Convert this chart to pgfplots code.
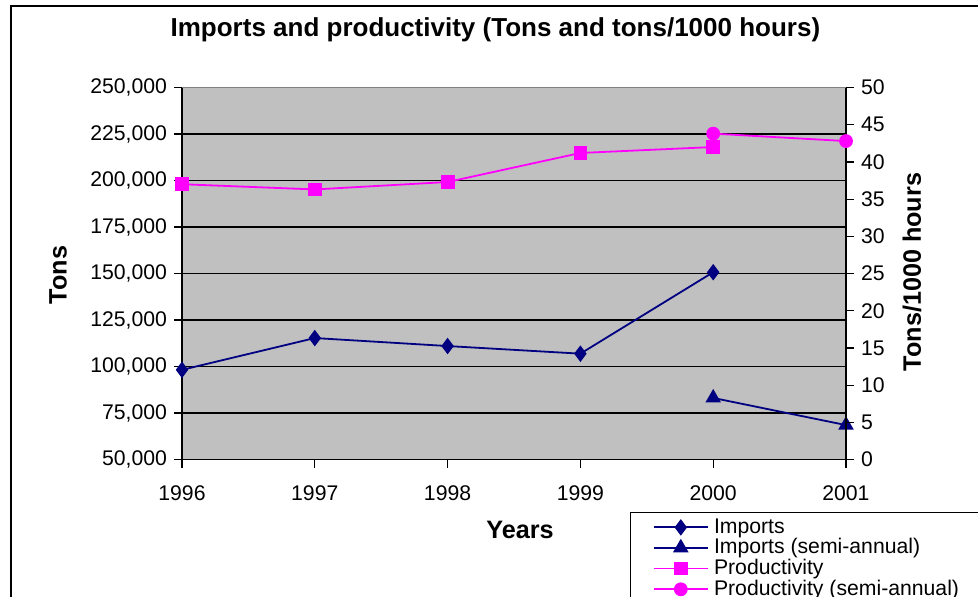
\documentclass[border=0pt]{standalone}
\usepackage{fontspec}
\setmainfont{Liberation Sans}
\usepackage{pgfplots}
\pgfplotsset{compat=1.18}

\definecolor{navy}{HTML}{000080}
\definecolor{magenta}{HTML}{FF00FF}
\definecolor{plotgray}{HTML}{C0C0C0}

\newcommand{\tickfont}{\fontsize{10.6}{11}\selectfont}
\newcommand{\labfont}{\fontsize{12.6}{14}\selectfont\bfseries}

\pgfplotsset{
  common/.style={
    scale only axis,
    width=332pt, height=186pt,
    at={(91pt,68.25pt)}, anchor=south west,
    xmin=1996, xmax=2001,
    tick align=outside,
    major tick length=4pt,
    tick style={black, line width=0.6pt},
    /pgf/number format/assume math mode=true,
    ticklabel style={font=\tickfont},
    clip=false,
  },
}

\begin{document}
\begin{tikzpicture}
\useasboundingbox (0,0) rectangle (489pt,298pt);
\clip (0,0) rectangle (489pt,298pt);

% outer chart frame
\draw[line width=1pt] (5.5pt,-10pt) |- (500pt,295pt);

\begin{axis}[common,
  axis background/.style={fill=plotgray},
  axis lines*=left,
  axis line style={black, line width=0.8pt},
  ymin=50000, ymax=250000,
  ytick={50000,75000,...,250000},
  ymajorgrids,
  grid style={black, line width=0.7pt},
  xtick={1996,...,2001},
  xticklabel style={/pgf/number format/1000 sep={}, yshift=-5.5pt},
  yticklabel style={/pgf/number format/.cd, fixed, 1000 sep={,}},
  scaled y ticks=false,
  title={Imports and productivity (Tons and tons/1000 hours)},
  title style={font=\fontsize{13}{15}\selectfont\bfseries,
    at={(axis description cs:0.472,1.1222)}, anchor=center},
  ylabel={Tons},
  ylabel style={font=\labfont, at={(axis description cs:-0.1867,0.496)}, anchor=center, rotate=0},
  xlabel={Years},
  xlabel style={font=\labfont, at={(axis description cs:0.509,-0.1895)}, anchor=center},
]
\addplot[navy, line width=0.9pt, mark=diamond*, mark size=3.4pt,
  mark options={solid, fill=navy}]
  coordinates {(1996,98200) (1997,115300) (1998,111000) (1999,106900) (2000,150700)};
\addplot[navy, line width=0.9pt, mark=triangle*, mark size=3.6pt,
  mark options={solid, fill=navy}]
  coordinates {(2000,83100) (2001,68500)};
\draw[gray, line width=0.8pt] (rel axis cs:0,1) -- (rel axis cs:1,1);
\end{axis}

\begin{axis}[common,
  axis x line=none,
  axis y line*=right,
  axis line style={black, line width=0.8pt},
  ymin=0, ymax=50,
  ytick={0,5,...,50},
  ylabel={Tons/1000 hours},
  ylabel style={font=\labfont, at={(axis description cs:1.0994,0.504)}, anchor=center, rotate=0},
  legend cell align=left,
  legend style={at={(axis description cs:0.6747,-0.1411)}, anchor=north west,
    draw=black, line width=0.6pt, fill=white,
    font=\fontsize{10.6}{10.6}\selectfont,
    inner xsep=11pt, inner ysep=2pt,
    row sep=-0.8pt,
    nodes={inner ysep=1pt, inner xsep=2.5pt}},
  legend image code/.code={
    \draw[mark repeat=2, mark phase=2, #1]
      plot coordinates {(0cm,0cm) (0.48cm,0cm) (0.96cm,0cm)};},
]
\addlegendimage{navy, line width=0.9pt, mark=diamond*, mark size=3.4pt, mark options={solid, fill=navy}}
\addlegendentry{Imports}
\addlegendimage{navy, line width=0.9pt, mark=triangle*, mark size=3.6pt, mark options={solid, fill=navy}}
\addlegendentry{Imports (semi-annual)}
\addplot[magenta, line width=0.9pt, mark=square*, mark size=3pt,
  mark options={solid, fill=magenta}]
  coordinates {(1996,37.0) (1997,36.3) (1998,37.3) (1999,41.2) (2000,42.0)};
\addlegendentry{Productivity}
\addplot[magenta, line width=0.9pt, mark=*, mark size=3pt,
  mark options={solid, fill=magenta}]
  coordinates {(2000,43.8) (2001,42.8)};
\addlegendentry{Productivity (semi-annual)}
\end{axis}
\end{tikzpicture}
\end{document}
